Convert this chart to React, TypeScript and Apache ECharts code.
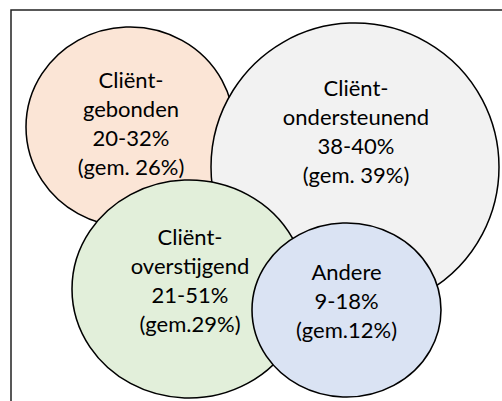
import React, { useEffect, useRef } from "react";
import * as echarts from "echarts";

// ---- data ----
const categories = ["Cliënt-\ngebonden", "Cliënt-\nondersteunend", "Cliënt-\noverstijgend", "Andere"];
const lows = [20, 38, 21, 9];
const highs = [32, 40, 51, 18];
const averages = [26, 39, 29, 12];
const avgPrefix = ["gem. ", "gem. ", "gem.", "gem."];

// ---- layout (diagram space, not data) ----
const centersX = [130, 355, 189, 346.5];
const centersY = [127, 167, 289, 310];
const widths = [208, 288, 234, 189];
const heights = [200, 288, 218, 174];
const labelOffsets: [number, number][] = [[1, -4], [1, -36], [1, -9], [0, -10]];
const fills = ["#FBE5D6", "#F2F2F2", "#E2EFDA", "#DAE3F3"];

export default function App() {
  const ref = useRef<HTMLDivElement>(null);
  useEffect(() => {
    document.body.style.margin = "0";
    const chart = echarts.init(ref.current!, null, { renderer: "svg" });
    const series = categories.map((cat, i) => ({
      type: "scatter",
      name: cat,
      z: 2 + i,
      clip: false,
      silent: true,
      symbol: "circle",
      symbolSize: [widths[i], heights[i]],
      itemStyle: { color: fills[i], borderColor: "#000", borderWidth: 1.5, opacity: 1 },
      label: {
        show: true,
        position: "inside",
        offset: labelOffsets[i],
        formatter: `${cat}\n${lows[i]}-${highs[i]}%\n(${avgPrefix[i]}${averages[i]}%)`,
        fontFamily: "Lato, 'Noto Sans', sans-serif",
        fontSize: 22,
        lineHeight: 29,
        color: "#000",
        align: "center",
      },
      data: [[centersX[i], centersY[i]]],
    }));
    chart.setOption({
      animation: false,
      backgroundColor: "#fff",
      grid: { left: 0, right: 0, top: 0, bottom: 0 },
      xAxis: { type: "value", min: 0, max: 502, show: false },
      yAxis: { type: "value", min: 0, max: 401, inverse: true, show: false },
      graphic: [
        {
          type: "rect",
          z: 100,
          shape: { x: 11, y: 10, width: 600, height: 600 },
          style: { fill: "none", stroke: "#222", lineWidth: 1.5 },
          silent: true,
        },
      ],
      series,
    });
    return () => chart.dispose();
  }, []);
  return <div ref={ref} style={{ width: 502, height: 401 }} />;
}
